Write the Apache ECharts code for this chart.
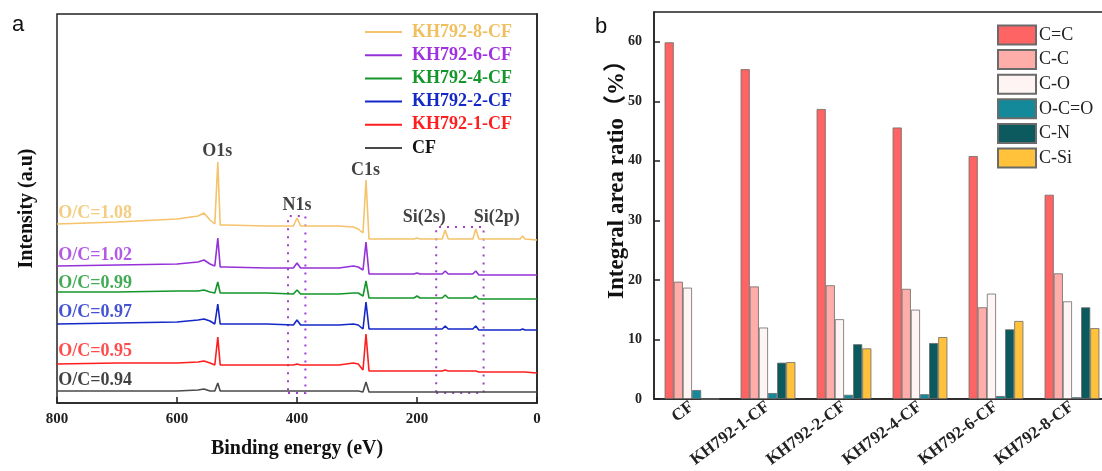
<!DOCTYPE html>
<html>
<head>
<meta charset="utf-8">
<script src="https://cdn.jsdelivr.net/npm/echarts@6/dist/echarts.min.js"></script>
<style>
  html, body { margin: 0; padding: 0; background: #fff; }
  #main { width: 1102px; height: 471px; }
</style>
</head>
<body>
<div id="main"></div>
<script>
// ---- panel a : XPS survey spectra (offset, arbitrary units) ----
const energy = [800, 700, 600, 565, 555, 545, 537, 532, 528, 520, 450, 406, 400, 394, 330, 306, 298, 290, 285, 280, 270, 205, 200, 195, 158, 153, 148, 107, 102, 97, 60, 28, 24, 20, 0];
const kh8 = [179, 181, 184, 187, 190, 183, 179, 241, 178, 178, 177, 177, 185, 177, 177, 176, 174, 170, 223, 164, 164, 164, 165, 164, 164, 173, 164, 164, 174, 164, 164, 164, 167, 164, 163];
const kh6 = [137, 138, 139, 141, 143, 139, 137, 165, 136, 136, 135, 135, 140, 135, 135, 137, 136, 133, 161, 129, 129, 129, 130, 129, 129, 132, 129, 129, 132, 128, 128, 128, 128, 128, 128];
const kh4 = [111, 111, 112, 112, 113, 111, 110, 121, 110, 110, 110, 109, 113, 109, 109, 110, 110, 107, 122, 105, 105, 105, 107, 105, 105, 108, 105, 105, 107, 104, 104, 104, 104, 104, 104];
const kh2 = [79, 80, 81, 83, 84, 82, 79, 99, 79, 79, 79, 78, 83, 78, 78, 79, 78, 74, 101, 74, 74, 74, 74, 74, 74, 77, 74, 74, 77, 73, 73, 73, 74, 73, 73];
const kh1 = [39, 40, 40, 41, 42, 40, 38, 66, 38, 38, 38, 38, 39, 38, 38, 40, 39, 33, 69, 32, 32, 32, 32, 32, 32, 33, 32, 32, 32, 31, 31, 31, 31, 31, 30];
const cf  = [12, 12, 12, 13, 14, 12, 12, 20, 12, 12, 12, 12, 12, 12, 12, 12, 12, 11, 21, 11, 11, 11, 11, 11, 11, 11, 11, 11, 11, 11, 11, 11, 11, 11, 11];

const sampleNames = ['CF', 'KH792-1-CF', 'KH792-2-CF', 'KH792-4-CF', 'KH792-6-CF', 'KH792-8-CF'];
const lineColors = ['#4a4a4a', '#ff1e1e', '#1428c8', '#14962a', '#9630d8', '#f5c36b'];
const textColors = ['#111111', '#ff1e1e', '#1428c8', '#14962a', '#a030e0', '#f0c060'];
const ocLabels = ['O/C=0.94', 'O/C=0.95', 'O/C=0.97', 'O/C=0.99', 'O/C=1.02', 'O/C=1.08'];
const ocLabelY = [23, 52, 91, 120, 148, 190];

const peakLabels = ['O1s', 'N1s', 'C1s', 'Si(2s)', 'Si(2p)'];
const peakLabelX = [533, 400, 286, 188, 67];
const peakLabelY = [252, 198, 233, 186, 186];

const n1sBox = [415, 386, 10, 187];
const siBox = [168, 89, 10, 176];

// ---- panel b : C1s component areas ----
const groups = ['CF', 'KH792-1-CF', 'KH792-2-CF', 'KH792-4-CF', 'KH792-6-CF', 'KH792-8-CF'];
const bondNames = ['C=C', 'C-C', 'C-O', 'O-C=O', 'C-N', 'C-Si'];
const cEqC  = [59.9, 55.4, 48.7, 45.6, 40.8, 34.3];
const cC    = [19.7, 18.9, 19.1, 18.5, 15.4, 21.1];
const cO    = [18.7, 12.0, 13.4, 15.0, 17.7, 16.4];
const oCeqO = [1.5, 1.0, 0.7, 0.8, 0.5, 0.3];
const cN    = [0, 6.1, 9.2, 9.4, 11.7, 15.4];
const cSi   = [0, 6.2, 8.5, 10.4, 13.1, 11.9];
const barColors = ['#ff6464', '#ffada9', '#fff4f4', '#13899a', '#0c5a5e', '#ffc23a'];

const serif = '"Liberation Serif", "Times New Roman", serif';
const spectra = [cf, kh1, kh2, kh4, kh6, kh8];
const barData = [cEqC, cC, cO, oCeqO, cN, cSi];

const myChart = echarts.init(document.getElementById('main'));

let series = [];
spectra.forEach((vals, i) => {
    let s = {
        name: sampleNames[i],
        type: 'line',
        xAxisIndex: 0,
        yAxisIndex: 0,
        symbol: 'none',
        data: energy.map((e, k) => [e, vals[k]]),
        lineStyle: { color: lineColors[i], width: 1.6 },
        itemStyle: { color: lineColors[i] },
        z: 3
    };
    if (i === 0) {
        // dotted boxes round N1s and Si peaks
        s.markArea = {
            silent: true,
            itemStyle: {
                color: 'rgba(0,0,0,0)',
                borderColor: '#a040c8',
                borderWidth: 2,
                borderType: [2, 6]
            },
            data: [
                [{ coord: [n1sBox[0], n1sBox[2]] }, { coord: [n1sBox[1], n1sBox[3]] }],
                [{ coord: [siBox[0], siBox[2]] }, { coord: [siBox[1], siBox[3]] }]
            ]
        };
    }
    series.push(s);
});

// text annotations of panel a
let annot = [];
peakLabels.forEach((t, i) => {
    annot.push({ value: [peakLabelX[i], peakLabelY[i]], name: t,
        label: { color: '#111', align: 'center' } });
});
ocLabels.forEach((t, i) => {
    annot.push({ value: [798, ocLabelY[i]], name: t,
        label: { color: textColors[i], align: 'left' } });
});
series.push({
    name: 'labels',
    type: 'scatter',
    xAxisIndex: 0,
    yAxisIndex: 0,
    symbolSize: 0,
    silent: true,
    data: annot,
    label: {
        show: true,
        position: 'inside',
        formatter: p => p.name,
        fontFamily: serif,
        fontWeight: 'bold',
        fontSize: 18
    },
    z: 5
});

barData.forEach((vals, i) => {
    series.push({
        name: bondNames[i],
        type: 'bar',
        xAxisIndex: 1,
        yAxisIndex: 1,
        data: vals,
        barGap: '0%',
        barCategoryGap: '28%',
        itemStyle: { color: barColors[i], borderColor: '#6b6b6b', borderWidth: 0.8 }
    });
});

const option = {
    backgroundColor: '#ffffff',
    animation: false,
    grid: [
        { left: 57, right: 565, top: 14, bottom: 68, show: true, borderColor: '#222', borderWidth: 1.5,
          outerBoundsMode: 'none', containLabel: false },
        { left: 654, right: -8, top: 12, bottom: 72, show: true, borderColor: '#222', borderWidth: 1.5,
          outerBoundsMode: 'none', containLabel: false }
    ],
    legend: [
        {
            orient: 'vertical',
            left: 360,
            top: 18,
            icon: 'rect',
            itemWidth: 37,
            itemHeight: 2,
            itemGap: 5.2,
            data: sampleNames.slice().reverse().map((n, k) => ({
                name: n,
                textStyle: { color: textColors[5 - k] }
            })),
            textStyle: { fontFamily: serif, fontWeight: 'bold', fontSize: 18, padding: [0, 0, 0, 5], lineHeight: 18 }
        },
        {
            orient: 'vertical',
            left: 992,
            top: 19.5,
            icon: 'rect',
            itemWidth: 38,
            itemHeight: 19,
            itemGap: 3.6,
            data: bondNames,
            textStyle: { fontFamily: serif, fontSize: 18, color: '#222', padding: [0, 0, 0, -2], lineHeight: 19 }
        }
    ],
    xAxis: [
        {
            gridIndex: 0,
            type: 'value',
            min: 0,
            max: 800,
            interval: 200,
            inverse: true,
            name: 'Binding energy (eV)',
            nameLocation: 'middle',
            nameGap: 36,
            nameTextStyle: { fontFamily: serif, fontWeight: 'bold', fontSize: 20, color: '#111' },
            axisLine: { lineStyle: { color: '#222', width: 1.5 } },
            axisTick: { inside: true, length: 6, lineStyle: { color: '#222', width: 1.5 } },
            axisLabel: { fontFamily: serif, fontWeight: 'bold', fontSize: 15, color: '#222', margin: 9 },
            splitLine: { show: false }
        },
        {
            gridIndex: 1,
            type: 'category',
            data: groups,
            axisLine: { lineStyle: { color: '#222', width: 1.5 } },
            axisTick: { show: false },
            axisLabel: { interval: 0, rotate: 37, margin: 6, fontFamily: serif, fontWeight: 'bold',
                         fontSize: 17, color: '#222' }
        }
    ],
    yAxis: [
        {
            gridIndex: 0,
            type: 'value',
            min: 0,
            max: 389,
            name: 'Intensity (a.u)',
            nameLocation: 'middle',
            nameGap: 20,
            nameTextStyle: { fontFamily: serif, fontWeight: 'bold', fontSize: 20, color: '#111' },
            axisLine: { show: true, lineStyle: { color: '#222', width: 1.5 } },
            axisTick: { show: false },
            axisLabel: { show: false },
            splitLine: { show: false }
        },
        {
            gridIndex: 1,
            type: 'value',
            min: 0,
            max: 65,
            interval: 10,
            axisLine: { show: true, lineStyle: { color: '#222', width: 1.5 } },
            axisTick: { show: true, inside: true, length: 6, lineStyle: { color: '#222', width: 1.5 } },
            axisLabel: { showMaxLabel: false, fontFamily: serif, fontWeight: 'bold', fontSize: 14,
                         color: '#222', margin: 12 },
            splitLine: { show: false }
        }
    ],
    graphic: [
        { type: 'text', left: 12, top: 14, style: { text: 'a', font: '22px "Liberation Sans", Arial, sans-serif', fill: '#111' } },
        { type: 'text', left: 595, top: 16, style: { text: 'b', font: '22px "Liberation Sans", Arial, sans-serif', fill: '#111' } },
        { type: 'text', x: 617, y: 174, rotation: Math.PI / 2,
          style: { text: 'Integral area ratio（%）', font: 'bold 23px "Liberation Serif", "Noto Sans CJK SC", serif',
                   fill: '#111', align: 'center', verticalAlign: 'middle' } }
    ],
    series: series
};

myChart.setOption(option);
</script>
</body>
</html>
